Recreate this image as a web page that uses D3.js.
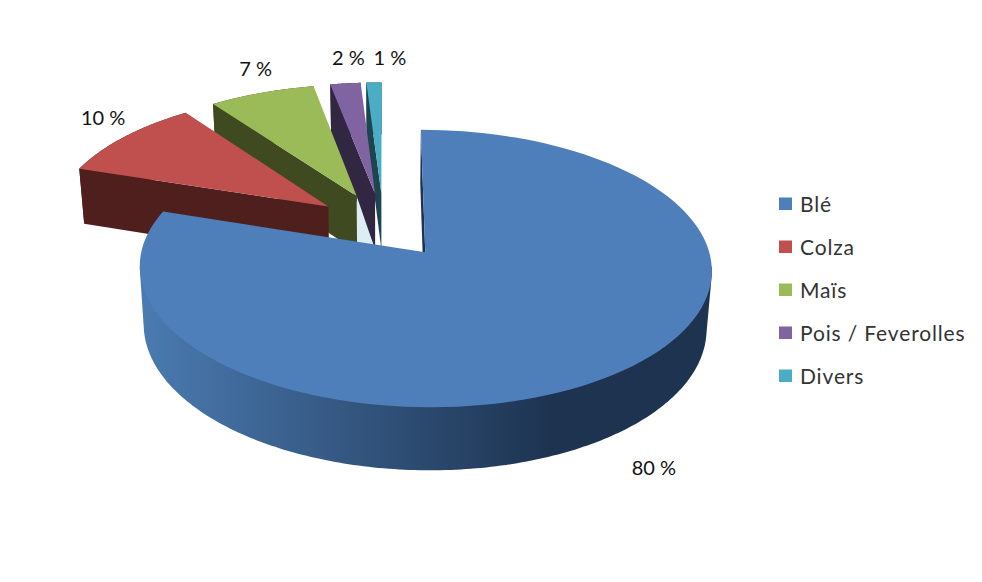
<!DOCTYPE html>
<html><head><meta charset="utf-8">
<script src="https://cdn.jsdelivr.net/npm/d3@7/dist/d3.min.js"></script>
<style>html,body{margin:0;padding:0;background:#fff}svg{display:block}</style>
</head><body><svg id="c" width="982" height="582"></svg>
<script>
const categories = ["Blé","Colza","Maïs","Pois / Feverolles","Divers"];
const values = [80,10,7,2,1];
const labels = ["80 %","10 %","7 %","2 %","1 %"];
const topColors = ["#4e7fbb","#bf504d","#9bbb59","#8064a2","#4bacc6"];
const wallColors = ["#1d3350","#4f1f1d","#3f4a20","#312743","#1c4550"];

const W = 982, H = 582;
const svg = d3.select("#c");
const explode = 0.25, k = -0.114;
const planes = {
  top: {cx:383.5, cy:225.3, rx:277.5, ry:130.6},
  bot: {cx:383.5, cy:282.2, rx:273, ry:135}
};
function project(u, v, plane){
  const p = planes[plane], d = 1 + k*v;
  return [p.cx + p.rx*u/d, p.cy + p.ry*v/d];
}
const pie = d3.pie().sort(null).value(d=>d);
const slices = pie(values).map((a,i)=>{
  const mid = (a.startAngle+a.endAngle)/2;
  return {i, a0:a.startAngle, a1:a.endAngle, mid,
    ox: explode*Math.sin(mid), oy: -explode*Math.cos(mid)};
});
const line = d3.line();
const apex = (s,pl)=>project(s.ox,s.oy,pl);
const rim = (s,t,pl)=>project(s.ox+Math.sin(t), s.oy-Math.cos(t), pl);
const arcPts = (s,pl)=>d3.range(0,121).map(j=>rim(s, s.a0+(s.a1-s.a0)*j/120, pl));

const defs = svg.append("defs");
const grad = defs.append("linearGradient").attr("id","side")
  .attr("gradientUnits","userSpaceOnUse")
  .attr("x1",145).attr("x2",553).attr("y1",0).attr("y2",0);
grad.append("stop").attr("offset",0).attr("stop-color","#4a7ab0");
grad.append("stop").attr("offset",1).attr("stop-color","#1d3350");

const g = svg.append("g");
function poly(pts,fill){ g.append("path").attr("d",line(pts)+"Z").attr("fill",fill); }

// far slices first, nearest (the large one) last
[4,3,2,1,0].forEach(i=>{
  const s = slices[i];
  if(i===2){ // pale inner face between the two walls
    poly([apex(s,"top"), apex(s,"bot"), apex(slices[3],"bot")], "#dcedf3");
  }
  const sideTop = arcPts(s,"top"), sideBot = arcPts(s,"bot");
  if(i===0){
    // curved outer side of the front half: hull of its upper and lower rims
    const front = d3.range(0,181).map(j=>(96+168*j/180)*Math.PI/180);
    const hull = d3.polygonHull(front.map(t=>rim(s,t,"top")).concat(front.map(t=>rim(s,t,"bot"))));
    poly(hull,"url(#side)");
  } else {
    poly(sideTop.concat(sideBot.slice().reverse()), wallColors[i]);
  }
  // radial wall
  poly([rim(s,s.a0,"top"), apex(s,"top"), apex(s,"bot"), rim(s,s.a0,"bot")], wallColors[i]);
  // top face
  poly([apex(s,"top")].concat(sideTop), topColors[i]);
});

// data labels placed from each slice's outer mid-point
const labelNudge = [[40,92.5],[-21.5,-20],[-6,-25],[3,-26],[16,-25]];
svg.append("g").selectAll("text").data(slices).join("text")
  .attr("x",s=>rim(s,s.mid,"top")[0]+labelNudge[s.i][0])
  .attr("y",s=>rim(s,s.mid,"top")[1]+labelNudge[s.i][1])
  .attr("text-anchor","middle").attr("dominant-baseline","central")
  .attr("font-family","Lato, 'Open Sans', sans-serif").attr("font-size",20)
  .attr("fill","#111")
  .text(s=>labels[s.i]);

// legend
const legendY = d3.scalePoint().domain(categories).range([204,376]);
const lg = svg.append("g").selectAll("g").data(categories).join("g")
  .attr("transform",d=>`translate(779,${legendY(d)})`);
lg.append("rect").attr("x",0).attr("y",-6.5).attr("width",13).attr("height",12.5)
  .attr("fill",(d,i)=>topColors[i]);
lg.append("text").attr("x",21).attr("y",-1).attr("dominant-baseline","central")
  .attr("font-family","Lato, 'Open Sans', sans-serif").attr("font-size",21)
  .attr("letter-spacing",0.85).attr("fill","#333")
  .text(d=>d);
</script></body></html>
